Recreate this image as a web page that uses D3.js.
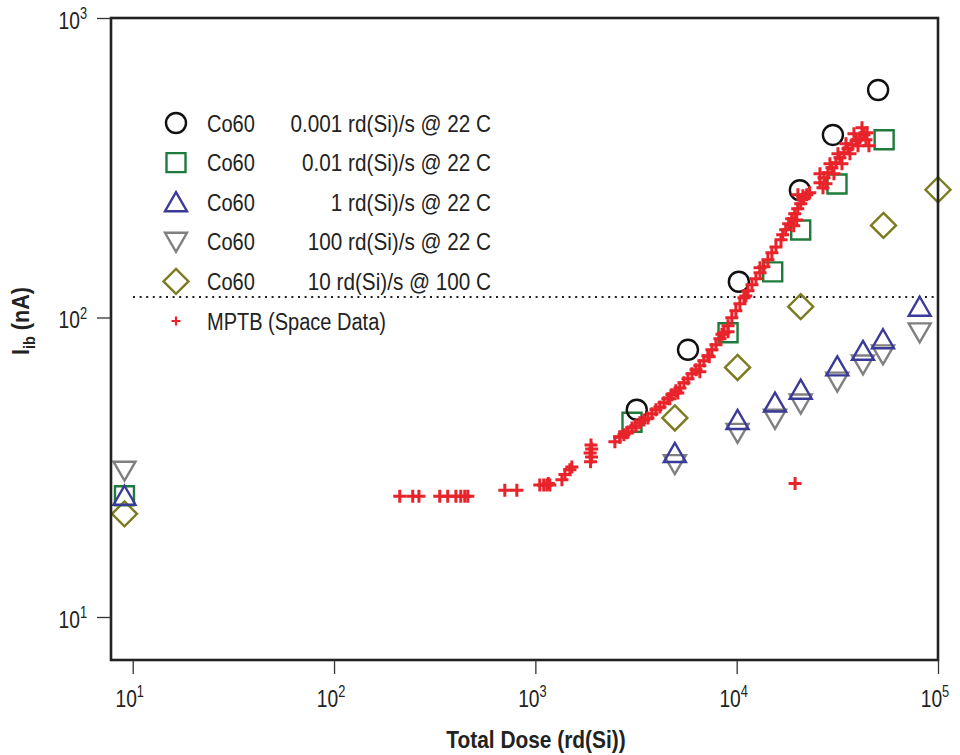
<!DOCTYPE html>
<html><head><meta charset="utf-8">
<script src="https://cdn.jsdelivr.net/npm/d3@7"></script>
<style>
body{margin:0;background:#fff}
text{font-family:"Liberation Sans",Arial,sans-serif;fill:#222}
</style>
</head><body>
<svg id="chart" width="960" height="755"></svg>
<script>
// ---------------- data ----------------
const xTickValues = [10, 100, 1000, 10000, 100000];
const yTickValues = [10, 100, 1000];
const xTitle = "Total Dose (rd(Si))";
const refLevel = 117; // dotted reference line (nA)

const legendSource = ["Co60", "Co60", "Co60", "Co60", "Co60", "MPTB (Space Data)"];
const legendRate = ["0.001 rd(Si)/s @ 22 C", "0.01 rd(Si)/s @ 22 C", "1 rd(Si)/s @ 22 C",
                    "100 rd(Si)/s @ 22 C", "10 rd(Si)/s @ 100 C", ""];

// [dose rd(Si), Iib nA]
const co60_0p001 = [[3190, 49.2], [5730, 78], [10250, 131.6], [20600, 266], [30060, 407], [50400, 575]];
const co60_0p01 = [[9.1, 25.4], [3020, 44.7], [9060, 88.9], [15100, 142], [20800, 196], [31500, 279], [54000, 392]];
const co60_1 = [[9.1, 25.4], [4930, 35.3], [10100, 45.5], [15500, 52], [20800, 57.4], [31600, 68.7], [42400, 77.4], [53300, 84.6], [81100, 108.6]];
const co60_100 = [[9.1, 30.8], [4930, 32.4], [10100, 41.2], [15500, 45.9], [20800, 51.6], [31600, 61.1], [42400, 69.7], [53300, 75.3], [81100, 89.2]];
const co60_10_100C = [[9.1, 22.1], [4930, 46.2], [10100, 68.1], [20800, 108.7], [53600, 203], [100000, 267]];
const mptb = [
  [212, 25.3], [246, 25.3], [264, 25.3], [335, 25.3], [367, 25.3], [403, 25.3], [426, 25.3], [446, 25.3], [462, 25.3],
  [705, 26.5], [809, 26.5],
  [1052, 27.6], [1100, 27.6], [1140, 27.6], [1180, 27.6], [1160, 27.9],
  [1355, 28.7], [1403, 29.9], [1484, 31.0], [1518, 31.7],
  [1880, 33.0], [1900, 34.2], [1870, 35.3], [1905, 36.4], [1890, 37.5],
  [2483, 38.5], [2630, 39.8], [2849, 41.2],
  [2630, 40.0], [2754, 40.6], [2884, 41.5], [3020, 42.8], [3155, 43.5], [3305, 44.5], [3460, 45.5], [3622, 46.2],
  [3793, 47.7], [3972, 49.2], [4159, 50.3], [4355, 51.9], [4550, 53.5], [4764, 55.2], [4989, 56.9], [5224, 58.2],
  [5470, 60.5], [5728, 62.4], [5998, 64.9], [6281, 66.9], [6561, 69.0], [6871, 71.7], [7194, 74.5], [7534, 78.0],
  [7889, 81.1], [8260, 84.9], [8650, 88.9], [9057, 93.8], [9462, 99.8], [9908, 105.3], [10380, 111.1], [10870, 116.4],
  [11380, 122.8], [11910, 128.6], [12470, 134.7], [13060, 141.0], [13650, 147.7], [14290, 156.0], [14960, 164.5], [15670, 172.0],
  [4656, 53.5], [6561, 65.9], [9057, 89.6], [13060, 146.6], [5100, 56.0], [7300, 74.0], [8450, 88.0], [11100, 118.0],
  [16600, 181.7], [16930, 188.8], [17520, 196.2], [18130, 205.5], [18760, 213.5], [19420, 221.9], [20100, 230.7],
  [20800, 239.8], [21530, 249.2], [22280, 256.9], [23060, 260.8], [19870, 211.8], [19200, 202.3], [21320, 254.9], [20150, 256.9],
  [25930, 281.8], [27140, 292.8], [28410, 304.2], [29730, 316.1], [31120, 328.5], [32580, 341.4], [34110, 354.8],
  [35710, 365.9], [37380, 377.4], [39140, 389.0], [40970, 398.1], [42900, 407.4], [44400, 413.7],
  [27770, 279.6], [30420, 301.9], [33340, 326.0], [36530, 352.1], [40050, 374.5], [25930, 301.9], [29060, 326.0],
  [31850, 352.1], [34910, 380.2], [38240, 410.6], [41920, 429.9], [43860, 392.0], [45400, 374.5], [26830, 271.0],
  [19500, 27.9]
];

// ---------------- layout ----------------
const svg = d3.select("#chart");
const L = 111, R = 938, T = 18, B = 660;
const x = d3.scaleLog().domain([7.8, 1e5]).range([L, R]);
const y = d3.scaleLog().domain([7.185, 1000]).range([B, T]);

// condensed text helper (Helvetica-Condensed look)
function ctext(px, py, size, sx, opts = {}) {
  const g = svg.append("g").attr("transform", `translate(${px},${py})${opts.rotate ? " rotate(" + opts.rotate + ")" : ""} scale(${sx},1)`);
  return g.append("text").attr("x", 0).attr("y", 0).attr("font-size", size)
    .attr("text-anchor", opts.anchor || "start").attr("font-weight", opts.weight || "normal");
}

// markers
const sym = {
  circle: () => d3.symbol().type(d3.symbolCircle).size(Math.PI * 10 * 10)(),
  square: () => "M-9.5,-9.5H9.5V9.5H-9.5Z",
  up: () => "M0,-10L11,9H-11Z",
  down: () => "M0,10L11,-9H-11Z",
  diamond: () => "M0,-12.5L12.5,0L0,12.5L-12.5,0Z",
  plus: () => "M-6.5,0H6.5M0,-6.5V6.5"
};
const styles = [
  {shape: "circle", color: "#111111", data: co60_0p001},
  {shape: "square", color: "#1e7b3c", data: co60_0p01},
  {shape: "up", color: "#3a3a98", data: co60_1},
  {shape: "down", color: "#808080", data: co60_100},
  {shape: "diamond", color: "#7b7b1f", data: co60_10_100C},
  {shape: "plus", color: "#e8232a", data: mptb}
];

// reference dotted line
svg.append("line").attr("x1", 133).attr("x2", R).attr("y1", y(refLevel)).attr("y2", y(refLevel))
  .attr("stroke", "#222").attr("stroke-width", 2).attr("stroke-dasharray", "2,4.6");

// series draw order
const order = [4, 1, 3, 2, 0, 5];
order.forEach(i => {
  const s = styles[i];
  svg.append("g").selectAll("path").data(s.data).join("path")
    .attr("transform", d => `translate(${x(d[0])},${y(d[1])})`)
    .attr("d", sym[s.shape]())
    .attr("fill", "none")
    .attr("stroke", s.color)
    .attr("stroke-width", s.shape === "plus" ? 3 : 2.4);
});

// frame
svg.append("rect").attr("x", L).attr("y", T).attr("width", R - L).attr("height", B - T)
  .attr("fill", "none").attr("stroke", "#222").attr("stroke-width", 2.6);

// x axis
const xAxis = d3.axisBottom(x).tickValues(xTickValues).tickSize(14).tickFormat("");
const gx = svg.append("g").attr("transform", `translate(0,${B})`).call(xAxis);
gx.select(".domain").remove();
gx.selectAll(".tick line").attr("stroke", "#333").attr("stroke-width", 1.3);
xTickValues.forEach(v => {
  const t = ctext(x(v) - 3, 707, 24, 0.8, {anchor: "middle"});
  t.append("tspan").text("10");
  t.append("tspan").attr("dy", -10).attr("font-size", 16).text(Math.round(Math.log10(v)));
});

// y axis
const yAxis = d3.axisLeft(y).tickValues(yTickValues).tickSize(14).tickFormat("");
const gy = svg.append("g").attr("transform", `translate(${L},0)`).call(yAxis);
gy.select(".domain").remove();
gy.selectAll(".tick line").attr("stroke", "#333").attr("stroke-width", 1.3);
yTickValues.forEach(v => {
  const t = ctext(87, y(v) + 11, 24, 0.8, {anchor: "end"});
  t.append("tspan").text("10");
  t.append("tspan").attr("dy", -10).attr("font-size", 16).text(Math.round(Math.log10(v)));
});

// titles
ctext(536, 748, 24, 0.87, {anchor: "middle", weight: "bold"}).text(xTitle);
const yt = ctext(29, 321, 24, 1, {anchor: "middle", weight: "bold", rotate: -90});
yt.append("tspan").text("I");
yt.append("tspan").attr("dy", 6).attr("font-size", 16).text("ib");
yt.append("tspan").attr("dy", -6).text(" (nA)");
yt.attr("textLength", 68).attr("lengthAdjust", "spacingAndGlyphs");

// legend
const legY0 = 123, legDy = 39.6;
styles.forEach((s, i) => {
  const cy = legY0 + i * legDy;
  svg.append("path").attr("transform", `translate(176,${cy})`).attr("d", s.shape === "plus" ? "M-4.5,0H4.5M0,-4.5V4.5" : sym[s.shape]())
    .attr("fill", "none").attr("stroke", s.color).attr("stroke-width", s.shape === "plus" ? 2.2 : 2.4);
  ctext(207, cy + 8.5, 23, 0.87).text(legendSource[i]);
  if (legendRate[i]) ctext(491, cy + 8.5, 23, 0.9, {anchor: "end"}).text(legendRate[i]);
});
</script>
</body></html>
